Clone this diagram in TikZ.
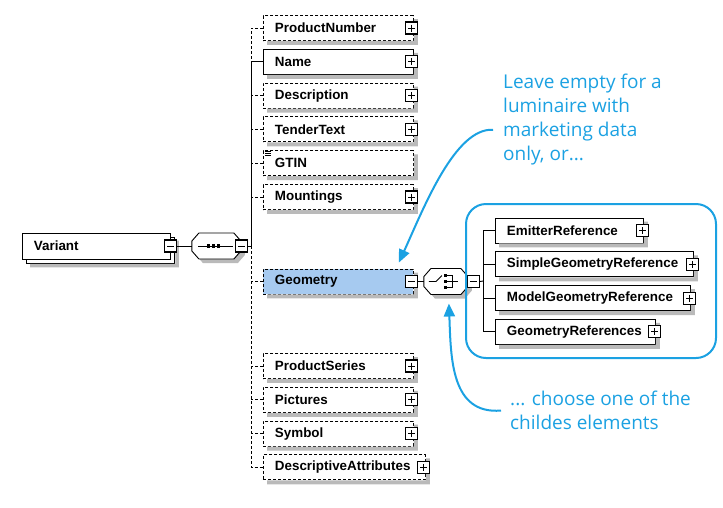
\documentclass[tikz,border=0pt]{standalone}
\usepackage{fontspec}
\setmainfont{Liberation Sans}
\newfontfamily\notefont{Open Sans}
\usepackage{tikz}
\usetikzlibrary{positioning,fit,calc,arrows.meta}

\definecolor{xsdblue}{RGB}{27,161,226}
\definecolor{xsdsel}{RGB}{166,202,240}
\definecolor{xsdgrey}{RGB}{186,186,186}

\tikzset{
	elem/.style = {shape=rectangle,
		draw=black, line width=0.9pt, fill=white,
		font=\fontsize{13.4}{15}\selectfont\bfseries,
		minimum height=25pt,
		inner xsep=11.5pt,
		text width=127pt,
		align=left,
		anchor=west
		},
	opt/.style = {elem, dash pattern=on 3pt off 2pt},
	root/.style = {elem,
		preaction={draw=black, fill=white, transform canvas={shift={(4pt,-4pt)}}}},
	pm/.style = {draw=black, fill=white, line width=1.1pt,
		minimum size=12pt, inner sep=0pt},
	plus/.style = {pm, path picture={
		\draw[line width=0.9pt]
			([xshift=2.5pt]path picture bounding box.west) -- ([xshift=-2.5pt]path picture bounding box.east)
			([yshift=-2.5pt]path picture bounding box.north) -- ([yshift=2.5pt]path picture bounding box.south);}},
	minus/.style = {pm, path picture={
		\draw[line width=0.9pt]
			([xshift=2.5pt]path picture bounding box.west) -- ([xshift=-2.5pt]path picture bounding box.east);}},
	comp/.style = {shape=rectangle, minimum height=26pt, inner sep=0pt, outer sep=0pt},
	link/.style = {draw=black, line width=0.9pt},
	optlink/.style = {link, dash pattern=on 3pt off 2pt},
	note/.style = {text=xsdblue, font=\notefont\fontsize{19}{24}\selectfont,
		align=left, anchor=north west, inner sep=0pt},
	hint/.style = {xsdblue, line width=2pt, -{Triangle[length=13pt,width=11pt]}}
}

% octagon of a compositor node, moved by (#2,#3)
\newcommand{\compoct}[3]{%
	([xshift=#2+7pt,yshift=#3]#1.north west) -- ([xshift=#2-7pt,yshift=#3]#1.north east)
	-- ([xshift=#2,yshift=#3-8pt]#1.north east) -- ([xshift=#2,yshift=#3+8pt]#1.south east)
	-- ([xshift=#2-7pt,yshift=#3]#1.south east) -- ([xshift=#2+7pt,yshift=#3]#1.south west)
	-- ([xshift=#2,yshift=#3+8pt]#1.south west) -- ([xshift=#2,yshift=#3-8pt]#1.north west) -- cycle}

\begin{document}
\begin{tikzpicture}[x=1pt,y=-1pt]
\useasboundingbox (0,0) rectangle (723,507);

% root element and sequence
\node[root, text width=125pt, minimum height=26pt] (var) at (22,246) {Variant};
\node[comp, minimum width=49pt, right=21pt of var] (seq) {};
\coordinate (jn) at (251,246);

% children of Variant
\node[opt] (pn) at (263,28) {ProductNumber};
\node[elem, below=7.9pt of pn] (name) {Name};
\node[opt, below=7.9pt of name] (desc) {Description};
\node[opt, below=7.9pt of desc] (tender) {TenderText};
\node[opt, below=7.9pt of tender] (gtin) {GTIN};
\node[opt, below=7.9pt of gtin] (mount) {Mountings};
\node[opt, fill=xsdsel, below=58.6pt of mount] (geo) {Geometry};
\node[opt, below=58.6pt of geo] (pser) {ProductSeries};
\node[opt, below=7.9pt of pser] (pic) {Pictures};
\node[opt, below=7.9pt of pic] (sym) {Symbol};
\node[opt, text width=139pt, below=7.9pt of sym.south west, anchor=north west] (dattr)
	{DescriptiveAttributes};
\node[comp, minimum width=44pt, right=10pt of geo] (choice) {};

\node[elem, text width=125pt] (emit) at (495,230.5) {EmitterReference};
\node[elem, text width=175pt, below=7.9pt of emit.south west, anchor=north west] (sgref)
	{SimpleGeometryReference};
\node[elem, text width=172pt, below=7.9pt of sgref.south west, anchor=north west] (mgref)
	{ModelGeometryReference};
\node[elem, text width=137pt, below=7.9pt of mgref.south west, anchor=north west] (grefs)
	{GeometryReferences};

% grey shadows beside the boxes
\foreach \n in {pn,name,desc,tender,gtin,mount,geo,pser,pic,sym,dattr,emit,sgref,mgref,grefs}
	\fill[xsdgrey] ($(\n.north east)+(0,4)$) rectangle ($(\n.south east)+(4,4)$)
		($(\n.south west)+(4,0)$) rectangle ($(\n.south east)+(4,4)$);
\fill[xsdgrey] ($(var.north east)+(4.5,8)$) rectangle ($(var.south east)+(8,8)$)
	($(var.south west)+(8,4.5)$) rectangle ($(var.south east)+(8,8)$);

% compositors
\fill[xsdgrey] \compoct{seq}{4pt}{-4pt};
\draw[line width=0.9pt, fill=white] \compoct{seq}{0pt}{0pt};
\draw[line width=0.9pt] ([xshift=-18pt]seq.center) -- ([xshift=17pt]seq.center);
\foreach \dx in {-8,-3,2}
	\fill ([xshift=\dx pt]seq.center) +(-1.6,-1.6) rectangle +(1.6,1.6);
\fill[xsdgrey] \compoct{choice}{4pt}{-4pt};
\draw[line width=0.9pt, fill=white] \compoct{choice}{0pt}{0pt};
\draw[line width=0.9pt] ([xshift=-17pt]choice.center) -- ([xshift=-10pt]choice.center)
	-- ([xshift=-4pt,yshift=6pt]choice.center);
\foreach \dy in {-6,0,6}
	\fill ([yshift=\dy pt]choice.center) +(-2,-1.6) rectangle +(1.2,1.6);
\draw[line width=0.9pt] ([xshift=1pt,yshift=6pt]choice.center) -- ++(5.5,0) -- ++(0,12) -- ++(-5.5,0)
	([xshift=1pt]choice.center) -- ([xshift=12pt]choice.center);
\coordinate (rj) at (483,281);

% plus and minus boxes
\draw[line width=0.6pt]
	([xshift=2pt,yshift=-1pt]gtin.north west) -- ++(6,0)
	([xshift=2pt,yshift=-3pt]gtin.north west) -- ++(6,0)
	([xshift=2pt,yshift=-5pt]gtin.north west) -- ++(6,0);
\node[minus] (var-pm) at (var.east) {};
\node[minus] (seq-pm) at ([xshift=1pt]seq.east) {};
\node[minus] (geo-pm) at ([xshift=-2pt]geo.east) {};
\node[minus] (choice-pm) at ([xshift=5.5pt]choice.east) {};
\foreach \n in {pn,name,desc,tender,mount,pser,pic,sym,dattr}
	\node[plus] (\n-pm) at ([xshift=-2pt]\n.east) {};
\foreach \n in {emit,sgref,mgref,grefs}
	\node[plus] (\n-pm) at ([xshift=-1pt]\n.east) {};

% connectors
\draw[link] (var-pm.east) -- (seq.west);
\draw[link] (seq-pm.east) -- (jn);
\draw[link] (jn) |- (name.west);
\draw[optlink] (pn.west) -| (jn |- name.west);
\draw[optlink] (jn) |- (dattr.west);
\foreach \n in {desc,tender,gtin,mount,geo,pser,pic,sym}
	\draw[optlink] (\n.west) -- (\n.west -| jn);
\draw[link] (geo-pm.east) -- (choice.west);
\draw[link] (choice-pm.east) -- (rj);
\draw[link] (rj) |- (emit.west);
\draw[link] (rj) |- (grefs.west);
\draw[link] (sgref.west) -- (sgref.west -| rj);
\draw[link] (mgref.west) -- (mgref.west -| rj);

% notes
\node[draw=xsdblue, line width=2pt, rounded corners=20pt,
	minimum width=250pt, minimum height=154pt] (grp) at (591,281) {};
\node[note] (leave) at (503,74) {Leave empty for a\\luminaire with\\marketing data\\only, or...};
\node[note] (choose) at (510,391) {... choose one of the\\childes elements};
\draw[hint] ([xshift=-10pt,yshift=-10pt]leave.west)
	.. controls +(-38,-2) and +(25,-55) .. ([xshift=-15pt,yshift=6pt]geo.north east);
\draw[hint] ([xshift=-9pt]choose.west)
	.. controls +(-50,4) and +(2,55) .. ([xshift=3pt,yshift=-9pt]choice.south);
\end{tikzpicture}
\end{document}
